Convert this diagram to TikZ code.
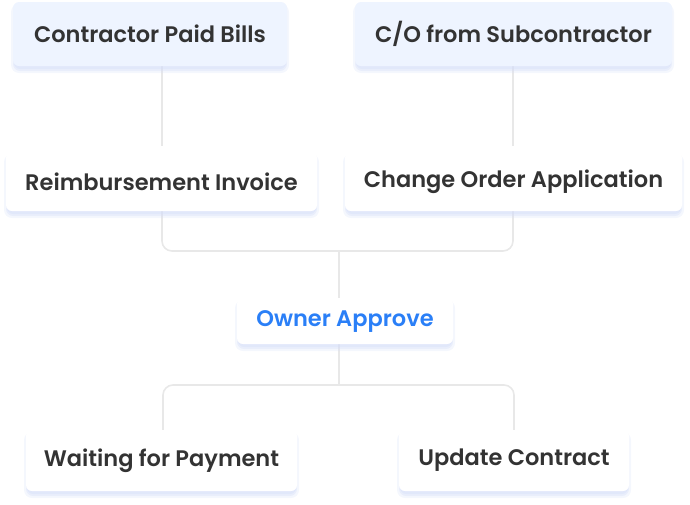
\documentclass[tikz,border=0pt]{standalone}
\usepackage{fontspec}
\setmainfont{Poppins}[BoldFont={* SemiBold}]
\begin{document}
\begin{tikzpicture}[x=1pt,y=-1pt,
  box/.style={draw=none,fill=white,rounded corners=6pt,text=txt,font=\bfseries\fontsize{22.5}{24}\selectfont,inner sep=0pt},
  topbox/.style={box,fill=topfill},
  line/.style={draw=linec,line width=1.6pt,rounded corners=10pt}]
\definecolor{txt}{HTML}{333333}
\definecolor{topfill}{HTML}{EEF4FF}
\definecolor{linec}{HTML}{E8E8E8}
\definecolor{shad}{HTML}{D5DEF8}
\definecolor{blu}{HTML}{2A7FF7}
\useasboundingbox (0,0) rectangle (690,504);
\newcommand\mkbox[7]{% name, x1,y1,x2,y2, style, text
  \fill[shad,opacity=0.25,rounded corners=8pt] (#2-2,#3+2) rectangle (#4+2,#5+7);
  \fill[shad,opacity=0.35,rounded corners=7pt] (#2,#3+2) rectangle (#4,#5+5);
  \fill[shad,opacity=0.4,rounded corners=6pt] (#2+1,#3+2) rectangle (#4-1,#5+3);
  \node[#6,minimum width=#4-#2,minimum height=#5-#3] (#1) at ({(#2+#4)/2},{(#3+#5)/2}) {#7};}
\draw[line] (162,66) -- (162,146);
\draw[line] (513,66) -- (513,146);
\draw[line] (162,211) -- (162,251) -- (513,251) -- (513,211);
\draw[line] (339,251) -- (339,298);
\draw[line] (339,344) -- (339,385);
\draw[line] (163,430) -- (163,385) -- (514,385) -- (514,430);
\mkbox{a}{13}{2}{287}{66}{topbox}{Contractor Paid Bills}
\mkbox{b}{355}{2}{672}{66}{topbox}{C/O from Subcontractor}
\mkbox{c}{6}{152}{317}{211}{box}{Reimbursement Invoice}
\mkbox{d}{345}{152}{682}{211}{box}{Change Order Application}
\mkbox{e}{237}{298}{453}{344}{box,text=blu}{Owner Approve}
\mkbox{f}{26}{430}{297}{491}{box}{Waiting for Payment}
\mkbox{g}{399}{430}{629}{491}{box}{Update Contract}
\end{tikzpicture}
\end{document}
